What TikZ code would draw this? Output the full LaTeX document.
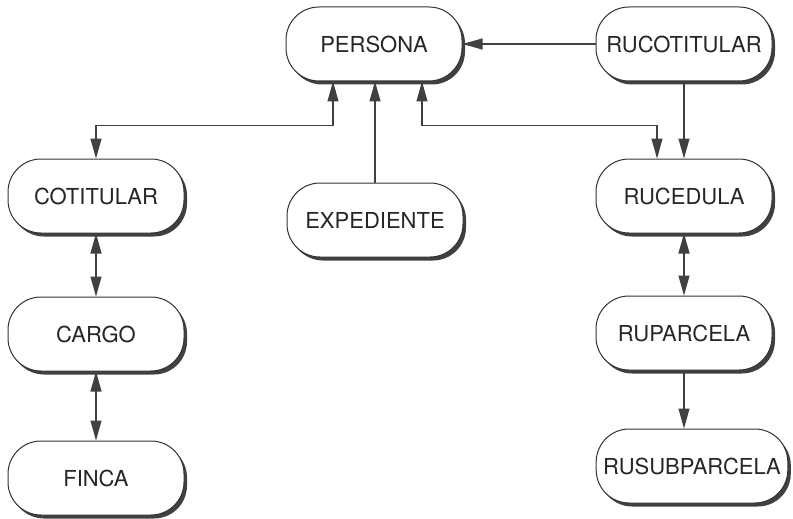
\documentclass[tikz,border=0pt]{standalone}
\usepackage{fontspec}
\setmainfont{TeX Gyre Heros}
\usetikzlibrary{arrows.meta,shadows}

\begin{document}
\begin{tikzpicture}[x=1pt,y=-1pt,>={Triangle[length=20pt,width=11pt]},
  line cap=round,
  tabla/.style={draw=black!80,line width=1pt,fill=white,rounded corners=33pt,
    minimum width=176pt,minimum height=74pt,inner xsep=7pt,
    text=black!85,font=\fontsize{22}{26}\selectfont,
    drop shadow={shadow xshift=3pt,shadow yshift=-3.5pt,fill=black!75,opacity=1}},
  enlace/.style={draw=black!75,line width=1.1pt}]
\useasboundingbox (0,0) rectangle (793,519);
% nodos
\node[tabla] (persona) at (374,44) {PERSONA};
\node[tabla] (rucot) at (684,44) {RUCOTITULAR};
\node[tabla] (cotit) at (96,196) {COTITULAR};
\node[tabla] (exped) at (375,220) {EXPEDIENTE};
\node[tabla] (ruced) at (684,196) {RUCEDULA};
\node[tabla] (cargo) at (96,334) {CARGO};
\node[tabla] (ruparc) at (684,333) {RUPARCELA};
\node[tabla] (finca) at (96,478) {FINCA};
\node[tabla] (rusub) at (692,466) {RUSUBPARCELA};
% enlaces
\draw[enlace,->] (rucot) -- (persona);
\draw[enlace,<->] ([xshift=-41pt]persona.south) |- ([yshift=33pt]cotit.north) -- (cotit.north);
\draw[enlace,->] (exped.north) -- (exped.north |- persona.south);
\draw[enlace,<->] ([xshift=48pt]persona.south) |- ([xshift=-27pt,yshift=33pt]ruced.north) -- ([xshift=-27pt]ruced.north);
\draw[enlace,->] (rucot) -- (ruced);
\draw[enlace,<->] (cotit) -- (cargo);
\draw[enlace,<->] (cargo) -- (finca);
\draw[enlace,<->] (ruced) -- (ruparc);
\draw[enlace,->] (ruparc) -- (ruparc |- rusub.north);
\end{tikzpicture}
\end{document}
